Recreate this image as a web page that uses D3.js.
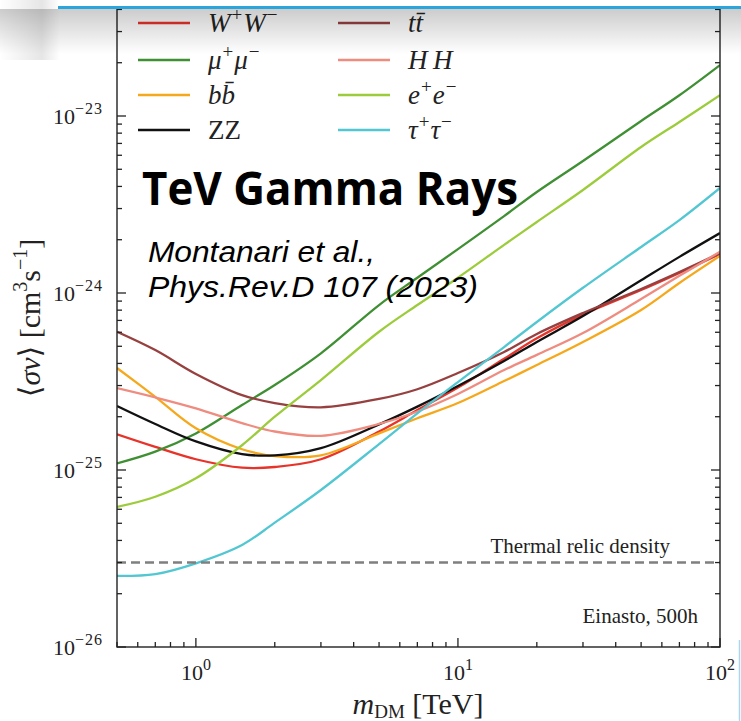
<!DOCTYPE html>
<html>
<head>
<meta charset="utf-8">
<script src="https://cdn.jsdelivr.net/npm/d3@7/dist/d3.min.js"></script>
<style>
  html, body { margin: 0; padding: 0; background: #ffffff; }
  svg { display: block; }
</style>
</head>
<body>
<svg id="chart" width="741" height="721"></svg>
<script>
// ---------------- DATA ----------------
const masses = [0.5, 0.7, 1, 1.5, 2, 3, 5, 7, 10, 15, 20, 30, 50, 70, 100]; // TeV
const sigmaWW     = [1.59e-25,1.35e-25,1.15e-25,1.03e-25,1.04e-25,1.15e-25,1.65e-25,2.18e-25,2.92e-25,4.25e-25,5.55e-25,7.55e-25,1.04e-24,1.30e-24,1.66e-24];
const sigmaMuMu   = [1.09e-25,1.27e-25,1.61e-25,2.33e-25,3.02e-25,4.56e-25,8.55e-25,1.22e-24,1.77e-24,2.72e-24,3.72e-24,5.57e-24,9.37e-24,1.31e-23,1.94e-23];
const sigmaBB     = [3.77e-25,2.59e-25,1.72e-25,1.31e-25,1.20e-25,1.21e-25,1.61e-25,1.96e-25,2.39e-25,3.18e-25,3.92e-25,5.29e-25,8.02e-25,1.14e-24,1.62e-24];
const sigmaZZ     = [2.30e-25,1.82e-25,1.45e-25,1.23e-25,1.21e-25,1.33e-25,1.81e-25,2.28e-25,2.98e-25,4.13e-25,5.29e-25,7.41e-25,1.18e-24,1.60e-24,2.18e-24];
const sigmaTT     = [6.04e-25,4.76e-25,3.49e-25,2.65e-25,2.39e-25,2.26e-25,2.52e-25,2.86e-25,3.53e-25,4.64e-25,5.87e-25,7.71e-25,1.054e-24,1.314e-24,1.68e-24];
const sigmaHH     = [2.90e-25,2.57e-25,2.23e-25,1.84e-25,1.65e-25,1.56e-25,1.82e-25,2.14e-25,2.69e-25,3.67e-25,4.47e-25,5.94e-25,9.25e-25,1.25e-24,1.71e-24];
const sigmaEE     = [6.18e-26,7.06e-26,8.98e-26,1.38e-25,2.00e-25,3.22e-25,6.04e-25,8.55e-25,1.22e-24,1.87e-24,2.52e-24,3.82e-24,6.68e-24,9.25e-24,1.31e-23];
const sigmaTauTau = [2.52e-26,2.58e-26,2.97e-26,3.77e-26,5.04e-26,7.71e-26,1.40e-25,2.09e-25,3.14e-25,4.95e-25,6.86e-25,1.07e-24,1.82e-24,2.58e-24,3.92e-24];

const thermalRelic = 3e-26;
const xMajorTicks = [1, 10, 100];
const xTickExponents = ["0", "1", "2"];
const yMajorTicks = [1e-26, 1e-25, 1e-24, 1e-23];
const yTickExponents = ["−26", "−25", "−24", "−23"];

// legend order (column-major, 2 columns)
const seriesNames = ["WW", "MuMu", "BB", "ZZ", "TT", "HH", "EE", "TauTau"];
const seriesValues = [sigmaWW, sigmaMuMu, sigmaBB, sigmaZZ, sigmaTT, sigmaHH, sigmaEE, sigmaTauTau];
const seriesColors = ["#e8332a", "#3f8f33", "#f6a81c", "#111111", "#974040", "#ef8c80", "#9ccc3c", "#52c7d2"];
// legend label parts: [text, style]  style: i = italic, n = normal, sup = superscript
const seriesLabels = [
  [["W","i"],["+","sup"],["W","i"],["−","sup"]],
  [["μ","i"],["+","sup"],["μ","i"],["−","sup"]],
  [["b","i"],["b\u0304","i"]],
  [["ZZ","n"]],
  [["t","i"],["t\u0304","i"]],
  [["H","i"],["\u2009H","i"]],
  [["e","i"],["+","sup"],["e","i"],["−","sup"]],
  [["τ","i"],["+","sup"],["τ","i"],["−","sup"]]
];

// ---------------- LAYOUT ----------------
const svg = d3.select("#chart");
const W = 741, H = 721;
const left = 117, right = 720, bottom = 647;
const serif = "'Liberation Serif', 'DejaVu Serif', serif";

const x = d3.scaleLog().domain([0.5, 100]).range([left, right]);
const y = d3.scaleLog().domain([1e-26, 5e-23]).range([bottom, bottom - Math.log10(5e-23 / 1e-26) * 177]);
const plotTop = y.range()[1];

// defs
const defs = svg.append("defs");
defs.append("clipPath").attr("id", "plotclip")
  .append("rect").attr("x", left).attr("y", plotTop).attr("width", right - left).attr("height", bottom - plotTop);
const sg = defs.append("linearGradient").attr("id", "shadow").attr("x1", 0).attr("y1", 0).attr("x2", 0).attr("y2", 1);
sg.append("stop").attr("offset", "0%").attr("stop-color", "#000").attr("stop-opacity", 0.2);
sg.append("stop").attr("offset", "100%").attr("stop-color", "#000").attr("stop-opacity", 0);
const lg = defs.append("linearGradient").attr("id", "shadowL").attr("x1", 0).attr("y1", 0).attr("x2", 1).attr("y2", 0);
lg.append("stop").attr("offset", "0%").attr("stop-color", "#000").attr("stop-opacity", 0.0);
lg.append("stop").attr("offset", "70%").attr("stop-color", "#000").attr("stop-opacity", 0.1);
lg.append("stop").attr("offset", "100%").attr("stop-color", "#000").attr("stop-opacity", 0.0);

svg.append("rect").attr("width", W).attr("height", H).attr("fill", "#fff");

// ---------------- CURVES ----------------
const plot = svg.append("g").attr("clip-path", "url(#plotclip)");
const line = d3.line()
  .x((d, i) => x(masses[i]))
  .y(d => y(d))
  .curve(d3.curveCatmullRom.alpha(0.5));

seriesValues.forEach((vals, k) => {
  plot.append("path")
    .attr("d", line(vals))
    .attr("fill", "none")
    .attr("stroke", seriesColors[k])
    .attr("stroke-width", 2.3)
    .attr("stroke-linejoin", "round");
});

// thermal relic line
plot.append("line")
  .attr("x1", left).attr("x2", right)
  .attr("y1", y(thermalRelic)).attr("y2", y(thermalRelic))
  .attr("stroke", "#7f7f7f").attr("stroke-width", 2.4)
  .attr("stroke-dasharray", "9,5");

svg.append("text")
  .attr("x", 670).attr("y", y(thermalRelic) - 10)
  .attr("text-anchor", "end")
  .attr("font-family", serif).attr("font-size", 21).attr("fill", "#222")
  .text("Thermal relic density");

svg.append("text")
  .attr("x", 698).attr("y", 623)
  .attr("text-anchor", "end")
  .attr("font-family", serif).attr("font-size", 21).attr("fill", "#222")
  .text("Einasto, 500h");

// ---------------- AXES ----------------
function minorTicks(lo, hi) {
  const t = [];
  for (let e = Math.floor(Math.log10(lo)); e <= Math.ceil(Math.log10(hi)); e++) {
    for (let m = 2; m <= 9; m++) {
      const v = m * Math.pow(10, e);
      if (v >= lo * 0.999 && v <= hi * 1.001) t.push(v);
    }
  }
  return t;
}
const xMin = minorTicks(0.5, 100);
const yMin = minorTicks(1e-26, 5e-23);
const tickG = svg.append("g").attr("stroke", "#222").attr("stroke-width", 1.3);

function xTicks(vals, len) {
  tickG.selectAll(null).data(vals).enter().append("line")
    .attr("x1", d => x(d)).attr("x2", d => x(d))
    .attr("y1", bottom).attr("y2", bottom - len);
}
function yTicks(vals, len) {
  tickG.selectAll(null).data(vals).enter().append("line")
    .attr("x1", left).attr("x2", left + len)
    .attr("y1", d => y(d)).attr("y2", d => y(d));
  tickG.selectAll(null).data(vals).enter().append("line")
    .attr("x1", right).attr("x2", right - len)
    .attr("y1", d => y(d)).attr("y2", d => y(d));
}
xTicks(xMajorTicks, 9);
xTicks(xMin, 5);
yTicks(yMajorTicks, 9);
yTicks(yMin, 5);

// frame
svg.append("rect")
  .attr("x", left).attr("y", plotTop).attr("width", right - left).attr("height", bottom - plotTop)
  .attr("fill", "none").attr("stroke", "#222").attr("stroke-width", 1.4);

// x tick labels
xMajorTicks.forEach((v, i) => {
  const t = svg.append("text")
    .attr("x", x(v)).attr("y", 680)
    .attr("text-anchor", "middle")
    .attr("font-family", serif).attr("font-size", 22).attr("fill", "#222");
  t.append("tspan").text("10");
  t.append("tspan").attr("dy", -10).attr("font-size", 16).text(xTickExponents[i]);
});
// y tick labels
yMajorTicks.forEach((v, i) => {
  const t = svg.append("text")
    .attr("x", 103).attr("y", y(v) + 8)
    .attr("text-anchor", "end")
    .attr("font-family", serif).attr("font-size", 22).attr("fill", "#222");
  t.append("tspan").text("10");
  t.append("tspan").attr("dy", -10).attr("font-size", 16).attr("letter-spacing", 1).text(yTickExponents[i]);
});

// axis labels
const xl = svg.append("text")
  .attr("x", 418).attr("y", 714)
  .attr("text-anchor", "middle")
  .attr("font-family", serif).attr("font-size", 30).attr("fill", "#222");
xl.append("tspan").attr("font-style", "italic").text("m");
xl.append("tspan").attr("dy", 4).attr("font-size", 19).text("DM");
xl.append("tspan").attr("dy", -4).text(" [TeV]");

const yl = svg.append("text")
  .attr("transform", "translate(40,318) rotate(-90)")
  .attr("text-anchor", "middle")
  .attr("font-family", serif).attr("font-size", 30).attr("fill", "#222");
yl.append("tspan").text("⟨");
yl.append("tspan").attr("font-style", "italic").text("σv");
yl.append("tspan").text("⟩ [cm");
yl.append("tspan").attr("dy", -13).attr("font-size", 20).text("3");
yl.append("tspan").attr("dy", 13).text("s");
yl.append("tspan").attr("dy", -13).attr("font-size", 20).text("−1");
yl.append("tspan").attr("dy", 13).text("]");

// ---------------- LEGEND ----------------
const legRowY = [23, 60, 95, 130];
const legColX = [138, 338];
seriesNames.forEach((name, k) => {
  const col = Math.floor(k / 4), row = k % 4;
  const lx = legColX[col], ly = legRowY[row];
  svg.append("line")
    .attr("x1", lx).attr("x2", lx + 52).attr("y1", ly).attr("y2", ly)
    .attr("stroke", seriesColors[k]).attr("stroke-width", 2.3);
  const t = svg.append("text")
    .attr("x", lx + 70).attr("y", ly + 9)
    .attr("font-family", serif).attr("font-size", 27).attr("fill", "#222");
  let up = false;
  seriesLabels[k].forEach(([txt, st]) => {
    const ts = t.append("tspan").text(txt);
    if (st === "i") ts.attr("font-style", "italic");
    if (st === "sup") {
      ts.attr("font-size", 19).attr("dy", up ? 0 : -11).attr("dx", 1);
      up = true;
    } else {
      if (up) { ts.attr("dy", 11).attr("dx", 1); up = false; }
    }
  });
});

// ---------------- ANNOTATIONS ----------------
svg.append("text")
  .attr("x", 142).attr("y", 205)
  .attr("font-family", "'Open Sans', 'Noto Sans', sans-serif")
  .attr("font-weight", 700).attr("font-size", 46).attr("fill", "#000")
  .attr("textLength", 376).attr("lengthAdjust", "spacingAndGlyphs")
  .text("TeV Gamma Rays");

svg.append("text")
  .attr("x", 148).attr("y", 262)
  .attr("font-family", "'Liberation Sans', Arial, sans-serif")
  .attr("font-style", "italic").attr("font-size", 30).attr("fill", "#000")
  .attr("textLength", 227).attr("lengthAdjust", "spacingAndGlyphs")
  .text("Montanari et al.,");
svg.append("text")
  .attr("x", 148).attr("y", 297)
  .attr("font-family", "'Liberation Sans', Arial, sans-serif")
  .attr("font-style", "italic").attr("font-size", 30).attr("fill", "#000")
  .attr("textLength", 330).attr("lengthAdjust", "spacingAndGlyphs")
  .text("Phys.Rev.D 107 (2023)");

// ---------------- SLIDE DECORATION (top strip) ----------------
svg.append("rect").attr("x", 0).attr("y", 9).attr("width", W).attr("height", 45).attr("fill", "url(#shadow)");
svg.append("rect").attr("x", 0).attr("y", 0).attr("width", 60).attr("height", 60).attr("fill", "url(#shadowL)");
svg.append("rect").attr("x", 58).attr("y", 0).attr("width", W - 58).attr("height", 7).attr("fill", "#ffffff");
svg.append("rect").attr("x", 58).attr("y", 6).attr("width", W - 58).attr("height", 3).attr("fill", "#2aa6dc");
svg.append("line").attr("x1", 739.5).attr("x2", 739.5).attr("y1", 640).attr("y2", H)
  .attr("stroke", "#a8d8f0").attr("stroke-width", 1.5);
</script>
</body>
</html>
